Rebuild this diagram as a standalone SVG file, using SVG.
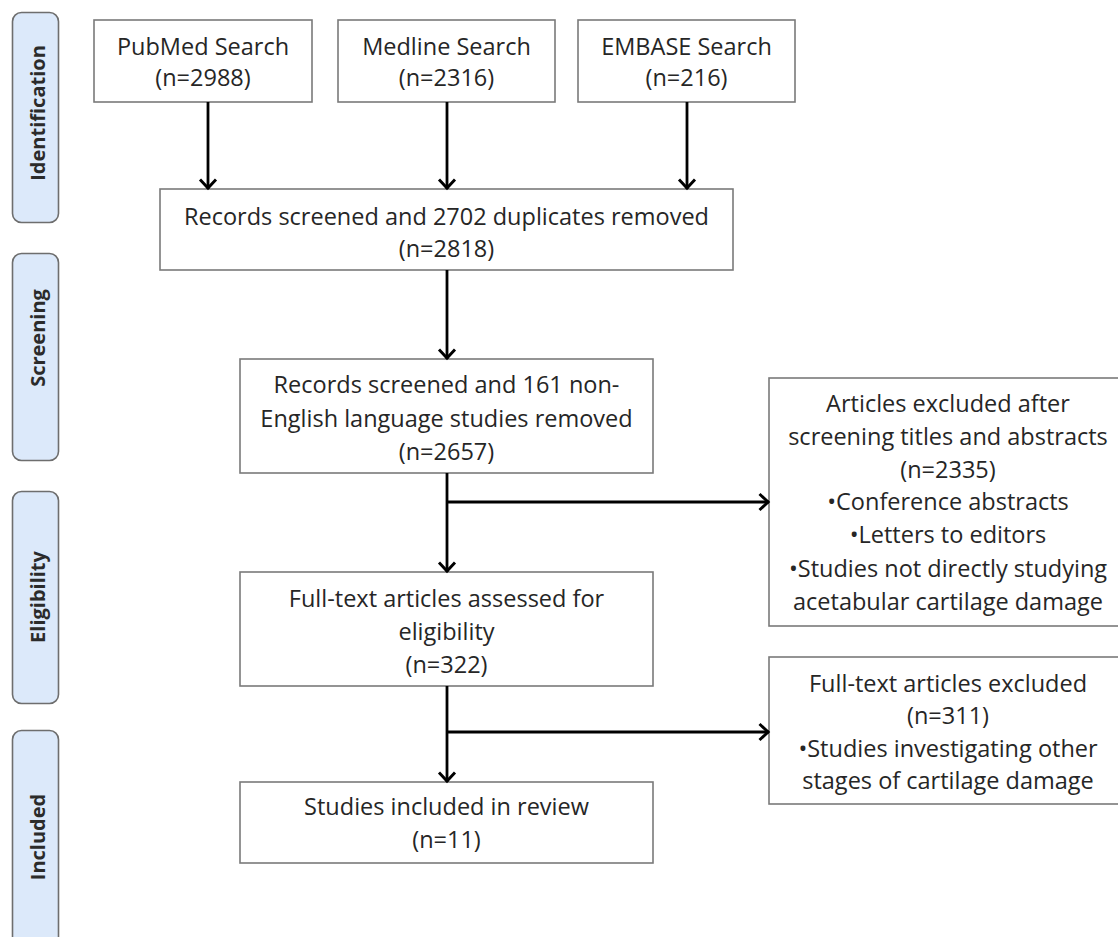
<svg xmlns="http://www.w3.org/2000/svg" width="1118" height="937" viewBox="0 0 1118 937">
<style>
.box{fill:#ffffff;stroke:#7a7a7a;stroke-width:1.6}
.side{fill:#dce9fa;stroke:#6e6e6e;stroke-width:1.6}
.t{font-family:"Open Sans","Noto Sans",sans-serif;font-size:23.5px;fill:#262626;text-anchor:middle}
.s{font-family:"Open Sans","Noto Sans",sans-serif;font-size:20px;font-weight:bold;fill:#2b2b2b;text-anchor:middle}
.c{fill:none;stroke:#000;stroke-width:2.8}
</style>
<defs>
<marker id="ah" viewBox="-12 -10 14 20" refX="0" refY="0" markerWidth="14" markerHeight="20" markerUnits="userSpaceOnUse" orient="auto">
<path d="M-9.5,-8 L-0.9,0 L-9.5,8" fill="none" stroke="#000" stroke-width="2.9"/>
</marker>
</defs>
<rect width="1118" height="937" fill="#ffffff"/>

<g id="stage-identification">
<rect class="side" x="12.5" y="12.5" width="46" height="210" rx="9"/>
<text class="s" transform="translate(44.5,113) rotate(-90)">Identification</text>
</g>
<g id="stage-screening">
<rect class="side" x="12.5" y="253.5" width="46" height="207" rx="9"/>
<text class="s" transform="translate(44.5,338) rotate(-90)">Screening</text>
</g>
<g id="stage-eligibility">
<rect class="side" x="12.5" y="491.5" width="46" height="212" rx="9"/>
<text class="s" transform="translate(44.5,597) rotate(-90)">Eligibility</text>
</g>
<g id="stage-included">
<rect class="side" x="12.5" y="730.5" width="46" height="215" rx="9"/>
<text class="s" transform="translate(44.5,837) rotate(-90)">Included</text>
</g>

<g id="pubmed">
<rect class="box" x="94" y="20" width="218" height="82"/>
<text class="t" x="203" y="55">PubMed Search</text>
<text class="t" x="203" y="86">(n=2988)</text>
</g>
<g id="medline">
<rect class="box" x="338" y="20" width="217" height="82"/>
<text class="t" x="446.5" y="55">Medline Search</text>
<text class="t" x="446.5" y="86">(n=2316)</text>
</g>
<g id="embase">
<rect class="box" x="578" y="20" width="217" height="82"/>
<text class="t" x="686.5" y="55">EMBASE Search</text>
<text class="t" x="686.5" y="86">(n=216)</text>
</g>
<g id="duplicates">
<rect class="box" x="160" y="189" width="573" height="81"/>
<text class="t" x="446.5" y="225">Records screened and 2702 duplicates removed</text>
<text class="t" x="446.5" y="257">(n=2818)</text>
</g>
<g id="non-english">
<rect class="box" x="240" y="359" width="413" height="114"/>
<text class="t" x="446.5" y="393">Records screened and 161 non-</text>
<text class="t" x="446.5" y="427">English language studies removed</text>
<text class="t" x="446.5" y="460">(n=2657)</text>
</g>
<g id="fulltext">
<rect class="box" x="240" y="572" width="413" height="114"/>
<text class="t" x="446.5" y="607">Full-text articles assessed for</text>
<text class="t" x="446.5" y="640">eligibility</text>
<text class="t" x="446.5" y="673">(n=322)</text>
</g>
<g id="included">
<rect class="box" x="240" y="782" width="413" height="81"/>
<text class="t" x="446.5" y="815">Studies included in review</text>
<text class="t" x="446.5" y="848">(n=11)</text>
</g>
<g id="excluded-abstracts">
<rect class="box" x="769" y="378" width="360" height="248"/>
<text class="t" x="948" y="412">Articles excluded after</text>
<text class="t" x="948" y="445">screening titles and abstracts</text>
<text class="t" x="948" y="478">(n=2335)</text>
<text class="t" x="948" y="510">•Conference abstracts</text>
<text class="t" x="948" y="543">•Letters to editors</text>
<text class="t" x="948" y="577">•Studies not directly studying</text>
<text class="t" x="948" y="610">acetabular cartilage damage</text>
</g>
<g id="excluded-fulltext">
<rect class="box" x="769" y="657" width="360" height="147"/>
<text class="t" x="948" y="692">Full-text articles excluded</text>
<text class="t" x="948" y="724">(n=311)</text>
<text class="t" x="948" y="757">•Studies investigating other</text>
<text class="t" x="948" y="789">stages of cartilage damage</text>
</g>

<g id="connectors">
<line class="c" x1="208" y1="102" x2="208" y2="189" marker-end="url(#ah)"/>
<line class="c" x1="447" y1="102" x2="447" y2="189" marker-end="url(#ah)"/>
<line class="c" x1="687" y1="102" x2="687" y2="189" marker-end="url(#ah)"/>
<line class="c" x1="447" y1="270" x2="447" y2="359" marker-end="url(#ah)"/>
<line class="c" x1="447" y1="473" x2="447" y2="572" marker-end="url(#ah)"/>
<line class="c" x1="447" y1="502" x2="769" y2="502" marker-end="url(#ah)"/>
<line class="c" x1="447" y1="686" x2="447" y2="782" marker-end="url(#ah)"/>
<line class="c" x1="447" y1="732" x2="769" y2="732" marker-end="url(#ah)"/>
</g>
</svg>
